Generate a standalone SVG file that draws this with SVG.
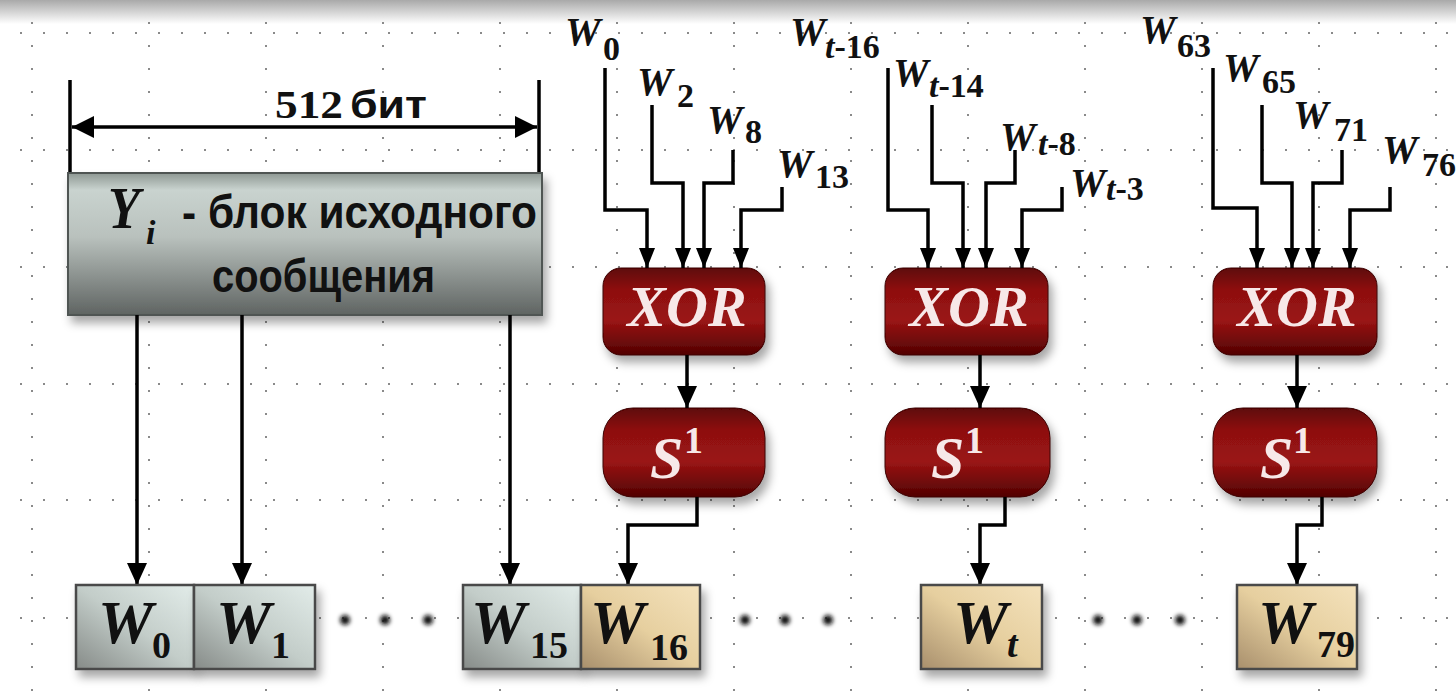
<svg xmlns="http://www.w3.org/2000/svg" width="1456" height="694" viewBox="0 0 1456 694">
  <defs>
    <linearGradient id="topband" x1="0" y1="0" x2="0" y2="1">
      <stop offset="0" stop-color="#a9a9a9"/>
      <stop offset="1" stop-color="#ffffff"/>
    </linearGradient>
    <linearGradient id="gY" x1="0" y1="0" x2="0" y2="1">
      <stop offset="0" stop-color="#8e9893"/>
      <stop offset="0.12" stop-color="#c9d3cf"/>
      <stop offset="0.45" stop-color="#b9c1bd"/>
      <stop offset="1" stop-color="#5f6462"/>
    </linearGradient>
    <linearGradient id="gGray" x1="1" y1="0" x2="0" y2="1">
      <stop offset="0" stop-color="#e2ece9"/>
      <stop offset="0.5" stop-color="#c3cdc9"/>
      <stop offset="1" stop-color="#868b88"/>
    </linearGradient>
    <linearGradient id="gTan" x1="1" y1="0" x2="0" y2="1">
      <stop offset="0" stop-color="#f4e2bc"/>
      <stop offset="0.5" stop-color="#e6cf9f"/>
      <stop offset="1" stop-color="#a88f6c"/>
    </linearGradient>
    <linearGradient id="gRed" x1="0" y1="0" x2="0" y2="1">
      <stop offset="0" stop-color="#5e0606"/>
      <stop offset="0.25" stop-color="#8e1010"/>
      <stop offset="0.6" stop-color="#9a1414"/>
      <stop offset="1" stop-color="#520202"/>
    </linearGradient>
    <filter id="shadow" x="-20%" y="-20%" width="150%" height="160%">
      <feDropShadow dx="4" dy="7" stdDeviation="5" flood-color="#000" flood-opacity="0.35"/>
    </filter>
    <filter id="blurdot" x="-100%" y="-100%" width="300%" height="300%">
      <feGaussianBlur stdDeviation="2"/>
    </filter>
    <marker id="ahb" markerUnits="userSpaceOnUse" markerWidth="22" markerHeight="22" refX="22" refY="11" orient="auto-start-reverse" viewBox="0 0 22 22">
      <path d="M0,0 L22,11 L0,22 Z" fill="#000"/>
    </marker>
    <marker id="ahm" markerUnits="userSpaceOnUse" markerWidth="22" markerHeight="20" refX="22" refY="10" orient="auto" viewBox="0 0 22 20">
      <path d="M0,0 L22,10 L0,20 Z" fill="#000"/>
    </marker>
    <marker id="ahi" markerUnits="userSpaceOnUse" markerWidth="20" markerHeight="16" refX="20" refY="8" orient="auto" viewBox="0 0 20 16">
      <path d="M0,0 L20,8 L0,16 Z" fill="#000"/>
    </marker>
  </defs>
  <style>
    .grid { stroke:#8a8a8a; stroke-width:2; stroke-dasharray:2 21; fill:none; }
    .wire { stroke:#000; stroke-width:3.5; fill:none; stroke-linejoin:miter; }
    .in { marker-end:url(#ahi); }
    .mid { marker-end:url(#ahm); }
    .red { fill:url(#gRed); stroke:#3a0000; stroke-width:1; filter:url(#shadow); }
    .gbox { fill:url(#gGray); stroke:#4a4a4a; stroke-width:2.5; }
    .tbox { fill:url(#gTan); stroke:#4a4a4a; stroke-width:2.5; }
    .lw { font-family:"Liberation Serif","Times New Roman",serif; font-weight:bold; font-style:italic; fill:#111; }
    .ls { font-family:"Liberation Serif","Times New Roman",serif; font-weight:bold; font-style:normal; fill:#111; }
    .lsi { font-style:italic; }
    .sans { font-family:"Liberation Sans",Arial,sans-serif; font-weight:bold; fill:#111; }
    .wt { font-family:"Liberation Serif","Times New Roman",serif; font-weight:bold; font-style:italic; fill:#f7e8e8; }
    .wn { font-family:"Liberation Serif","Times New Roman",serif; font-weight:bold; font-style:normal; fill:#f7e8e8; }
    .dot { fill:#111; filter:url(#blurdot); }
  </style>

  <rect x="0" y="0" width="1456" height="694" fill="#ffffff"/>
  <rect x="0" y="0" width="1456" height="24" fill="url(#topband)"/>

  <g id="grid">
    <path class="grid" d="M20,33 H1456 M20,150 H1456 M20,267 H1456 M20,384 H1456 M20,500 H1456 M20,618 H1456"/>
    <path class="grid" d="M32,22 V694 M149,22 V694 M266,22 V694 M383,22 V694 M500,22 V694 M617,22 V694 M734,22 V694 M851,22 V694 M968,22 V694 M1085,22 V694 M1202,22 V694 M1319,22 V694 M1436,22 V694"/>
  </g>

  <g id="dimension">
    <path class="wire" d="M70,80 V175 M539,80 V175"/>
    <path class="wire" d="M72,127 H537" marker-start="url(#ahb)" marker-end="url(#ahb)"/>
    <text class="ls" x="275" y="118" font-size="40" textLength="68" lengthAdjust="spacingAndGlyphs">512</text>
    <text class="sans" x="350" y="118" font-size="38" textLength="77" lengthAdjust="spacingAndGlyphs">бит</text>
  </g>

  <g id="node-Y">
    <rect x="68" y="173" width="474" height="142" fill="url(#gY)" stroke="#505553" stroke-width="2" filter="url(#shadow)"/>
    <text class="lw" x="108" y="228" font-size="60" textLength="32" lengthAdjust="spacingAndGlyphs">Y</text>
    <text class="lw" x="146" y="244" font-size="34">i</text>
    <text class="sans" x="182" y="228" font-size="46" textLength="355" lengthAdjust="spacingAndGlyphs">- блок исходного</text>
    <text class="sans" x="212" y="292" font-size="46" textLength="223" lengthAdjust="spacingAndGlyphs">сообщения</text>
  </g>

  <g id="input-labels">
    <text class="lw" x="565" y="45" font-size="40">W</text><text class="ls" x="603" y="60" font-size="34">0</text>
    <text class="lw" x="637" y="95" font-size="40">W</text><text class="ls" x="677" y="107" font-size="34">2</text>
    <text class="lw" x="707" y="133" font-size="40">W</text><text class="ls" x="745" y="143" font-size="34">8</text>
    <text class="lw" x="777" y="177" font-size="40">W</text><text class="ls" x="815" y="188" font-size="34">13</text>

    <text class="lw" x="790" y="45" font-size="40">W</text><text class="ls" x="825" y="58" font-size="34"><tspan class="lsi">t</tspan>-16</text>
    <text class="lw" x="893" y="86" font-size="40">W</text><text class="ls" x="929" y="97" font-size="34"><tspan class="lsi">t</tspan>-14</text>
    <text class="lw" x="1000" y="150" font-size="40">W</text><text class="ls" x="1038" y="155" font-size="34"><tspan class="lsi">t</tspan>-8</text>
    <text class="lw" x="1070" y="196" font-size="40">W</text><text class="ls" x="1106" y="200" font-size="34"><tspan class="lsi">t</tspan>-3</text>

    <text class="lw" x="1140" y="43" font-size="40">W</text><text class="ls" x="1177" y="57" font-size="34">63</text>
    <text class="lw" x="1223" y="81" font-size="40">W</text><text class="ls" x="1262" y="93" font-size="34">65</text>
    <text class="lw" x="1293" y="128" font-size="40">W</text><text class="ls" x="1334" y="141" font-size="34">71</text>
    <text class="lw" x="1382" y="163" font-size="40">W</text><text class="ls" x="1422" y="176" font-size="34">76</text>
  </g>

  <g id="node-XOR1">
    <rect class="red" x="603" y="268" width="162" height="87" rx="18"/>
    <text class="wt" x="687" y="326" font-size="58" text-anchor="middle">XOR</text>
  </g>
  <g id="node-XOR2">
    <rect class="red" x="885" y="268" width="163" height="87" rx="18"/>
    <text class="wt" x="969" y="326" font-size="58" text-anchor="middle">XOR</text>
  </g>
  <g id="node-XOR3">
    <rect class="red" x="1213" y="268" width="164" height="87" rx="18"/>
    <text class="wt" x="1297" y="326" font-size="58" text-anchor="middle">XOR</text>
  </g>

  <g id="node-S1">
    <rect class="red" x="603" y="408" width="162" height="89" rx="30"/>
    <text class="wt" x="650" y="478" font-size="60">S</text><text class="wn" x="684" y="453" font-size="38">1</text>
  </g>
  <g id="node-S2">
    <rect class="red" x="885" y="408" width="165" height="89" rx="30"/>
    <text class="wt" x="931" y="478" font-size="60">S</text><text class="wn" x="965" y="453" font-size="38">1</text>
  </g>
  <g id="node-S3">
    <rect class="red" x="1213" y="408" width="164" height="89" rx="30"/>
    <text class="wt" x="1260" y="478" font-size="60">S</text><text class="wn" x="1293" y="453" font-size="38">1</text>
  </g>

  <g id="connectors">
    <path class="wire in" d="M605,68 V210 H647 V268"/>
    <path class="wire in" d="M652,105 V183 H683 V268"/>
    <path class="wire in" d="M733,150 V183 H704 V268"/>
    <path class="wire in" d="M782,187 V210 H741 V268"/>

    <path class="wire in" d="M888,68 V210 H928 V268"/>
    <path class="wire in" d="M932,105 V183 H963 V268"/>
    <path class="wire in" d="M1015,150 V183 H986 V268"/>
    <path class="wire in" d="M1062,187 V210 H1022 V268"/>

    <path class="wire in" d="M1213,68 V208 H1257 V268"/>
    <path class="wire in" d="M1262,105 V183 H1292 V268"/>
    <path class="wire in" d="M1342,150 V183 H1313 V268"/>
    <path class="wire in" d="M1390,187 V210 H1350 V268"/>

    <path class="wire mid" d="M687,355 V408"/>
    <path class="wire mid" d="M980,355 V408"/>
    <path class="wire mid" d="M1297,355 V408"/>

    <path class="wire mid" d="M697,497 V525 H628 V585"/>
    <path class="wire mid" d="M1005,497 V525 H980 V585"/>
    <path class="wire mid" d="M1322,497 V525 H1297 V585"/>

    <path class="wire mid" d="M137,315 V585"/>
    <path class="wire mid" d="M242,315 V585"/>
    <path class="wire mid" d="M510,315 V585"/>
  </g>

  <g id="node-W0">
    <rect class="gbox" x="76" y="585" width="118" height="84" filter="url(#shadow)"/>
    <text class="lw" x="98" y="643" font-size="62">W</text><text class="ls" x="152" y="658" font-size="38">0</text>
  </g>
  <g id="node-W1">
    <rect class="gbox" x="194" y="585" width="121" height="84" filter="url(#shadow)"/>
    <text class="lw" x="216" y="643" font-size="62">W</text><text class="ls" x="271" y="658" font-size="38">1</text>
  </g>
  <g id="node-W15">
    <rect class="gbox" x="463" y="585" width="118" height="84" filter="url(#shadow)"/>
    <text class="lw" x="471" y="643" font-size="62">W</text><text class="ls" x="530" y="658" font-size="38">15</text>
  </g>
  <g id="node-W16">
    <rect class="tbox" x="581" y="585" width="119" height="84" filter="url(#shadow)"/>
    <text class="lw" x="590" y="643" font-size="62">W</text><text class="ls" x="650" y="660" font-size="38">16</text>
  </g>
  <g id="node-Wt">
    <rect class="tbox" x="921" y="585" width="121" height="84" filter="url(#shadow)"/>
    <text class="lw" x="953" y="643" font-size="62">W</text><text class="lw" x="1007" y="657" font-size="38">t</text>
  </g>
  <g id="node-W79">
    <rect class="tbox" x="1237" y="585" width="120" height="84" filter="url(#shadow)"/>
    <text class="lw" x="1258" y="643" font-size="62">W</text><text class="ls" x="1317" y="657" font-size="38">79</text>
  </g>

  <g id="ellipses">
    <circle class="dot" cx="345" cy="620" r="5"/>
    <circle class="dot" cx="385" cy="620" r="5"/>
    <circle class="dot" cx="428" cy="620" r="5"/>
    <circle class="dot" cx="745" cy="620" r="5"/>
    <circle class="dot" cx="785" cy="620" r="5"/>
    <circle class="dot" cx="828" cy="620" r="5"/>
    <circle class="dot" cx="1098" cy="620" r="5"/>
    <circle class="dot" cx="1137" cy="620" r="5"/>
    <circle class="dot" cx="1180" cy="620" r="5"/>
  </g>
</svg>
